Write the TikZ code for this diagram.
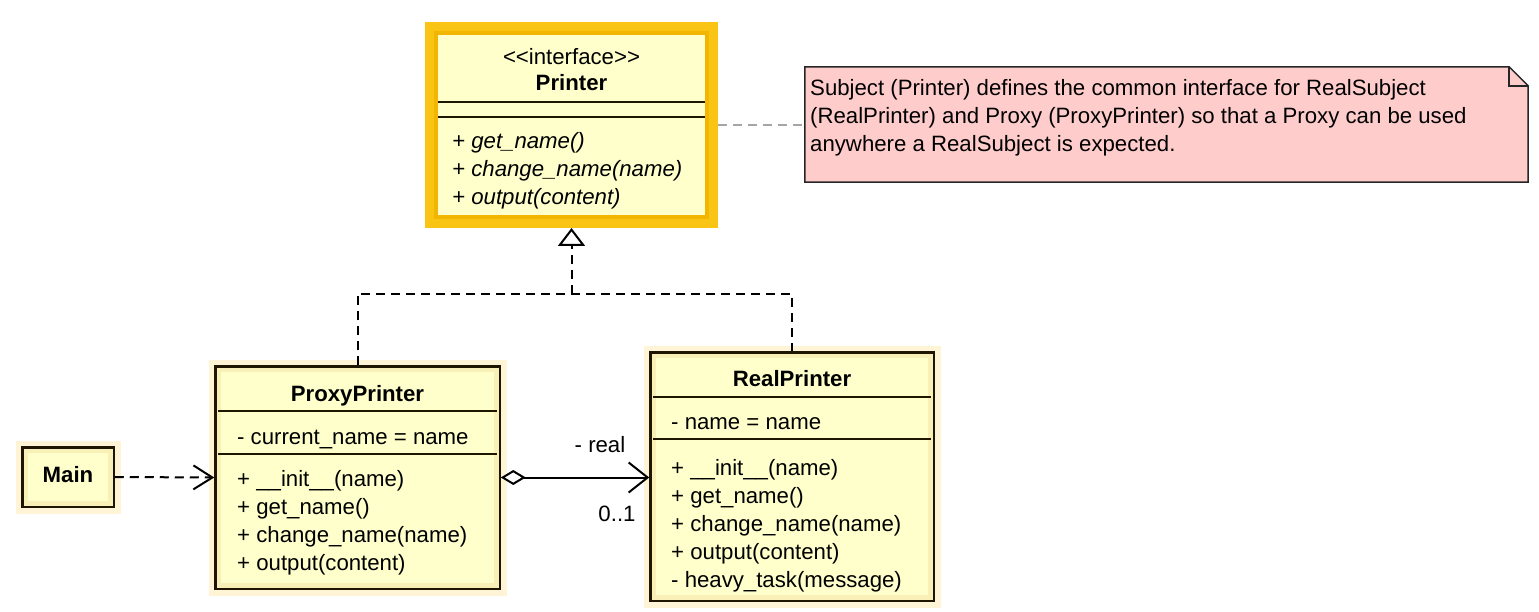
\documentclass[tikz,border=0pt]{standalone}
\usepackage{fontspec}
\newfontfamily\umlfont{Liberation Sans}
\usetikzlibrary{arrows.meta}
\definecolor{cream}{RGB}{255,255,204}
\definecolor{halo}{RGB}{255,244,214}
\definecolor{band}{RGB}{249,240,184}
\definecolor{border}{RGB}{30,22,0}
\definecolor{goldA}{RGB}{243,182,0}
\definecolor{goldB}{RGB}{250,196,20}
\definecolor{notepink}{RGB}{255,204,204}
\definecolor{notegray}{RGB}{165,165,165}
\begin{document}
\begin{tikzpicture}[x=1pt,y=-1pt,
  umltext/.style={font=\umlfont\fontsize{22.2}{28}\selectfont, inner sep=0pt, anchor=base west, text=black},
  umlital/.style={umltext, font=\umlfont\itshape\fontsize{22.2}{28}\selectfont},
  umltitle/.style={font=\umlfont\bfseries\fontsize{22.2}{28}\selectfont, inner sep=0pt, anchor=base, text=black},
  frame/.style={draw=border, line width=3.5pt, fill=cream, inner sep=0pt,
    preaction={draw=halo, line width=15pt}},
  bandline/.style={draw=band, line width=4.5pt},
  sepline/.style={draw=border, line width=1.8pt},
  conn/.style={draw=black, line width=2pt},
  dashconn/.style={conn, dash pattern=on 9pt off 6pt}
]
\useasboundingbox (0,0) rectangle (1539,612);

% ---------- Printer (interface, highlighted) ----------
\node[draw=goldB, fill=goldA, line width=9pt, inner sep=0pt,
      minimum width=284pt, minimum height=197pt] (printerhl) at (571.5,125) {};
\node[fill=cream, inner sep=0pt, minimum width=267pt, minimum height=180pt] (printer) at (571.5,125) {};
\draw[sepline] (438,102) -- (705,102);
\draw[sepline] (438,117) -- (705,117);
\node[umltext, anchor=base] (pstereo) at (571.5,65) {<{}<interface>{}>};
\node[umltitle] (ptitle) at (571.5,91) {Printer};
\node[umlital] (pm1) at (452,149) {+ get\_name()};
\node[umlital] (pm2) at (452,177) {+ change\_name(name)};
\node[umlital] (pm3) at (452,205) {+ output(content)};

% ---------- ProxyPrinter ----------
\node[frame, minimum width=283pt, minimum height=221pt] (proxy) at (357.5,477.5) {};
\draw[bandline] ([shift={(4.5,4.5)}]proxy.north west) rectangle ([shift={(-4.5,-4.5)}]proxy.south east);
\draw[sepline] (218,411) -- (497,411);
\draw[sepline] (218,454) -- (497,454);
\node[umltitle] (xtitle) at (357.5,401) {ProxyPrinter};
\node[umltext] (xa1) at (237,444) {- current\_name = name};
\node[umltext] (xm1) at (237,486) {+ \_\_init\_\_(name)};
\node[umltext] (xm2) at (237,514) {+ get\_name()};
\node[umltext] (xm3) at (237,542) {+ change\_name(name)};
\node[umltext] (xm4) at (237,570) {+ output(content)};

% ---------- RealPrinter ----------
\node[frame, minimum width=282pt, minimum height=247pt] (real) at (792,476.5) {};
\draw[bandline] ([shift={(4.5,4.5)}]real.north west) rectangle ([shift={(-4.5,-4.5)}]real.south east);
\draw[sepline] (653,397) -- (931,397);
\draw[sepline] (653,439) -- (931,439);
\node[umltitle] (rtitle) at (792,386) {RealPrinter};
\node[umltext] (ra1) at (671,429) {- name = name};
\node[umltext] (rm1) at (671,475) {+ \_\_init\_\_(name)};
\node[umltext] (rm2) at (671,503) {+ get\_name()};
\node[umltext] (rm3) at (671,531) {+ change\_name(name)};
\node[umltext] (rm4) at (671,559) {+ output(content)};
\node[umltext] (rm5) at (671,587) {- heavy\_task(message)};

% ---------- Main ----------
\node[frame, minimum width=90pt, minimum height=58pt] (main) at (68,477) {};
\draw[bandline] ([shift={(4.5,4.5)}]main.north west) rectangle ([shift={(-4.5,-4.5)}]main.south east);
\node[umltitle] (mtitle) at (68,482) {Main};

% ---------- Note ----------
\node[inner sep=0pt, minimum width=723pt, minimum height=115pt] (note) at (1166.5,124.5) {};
\draw[fill=notepink, draw=black!85, line width=1.5pt]
  (note.north west) -- ([shift={(-19,0)}]note.north east) -- ([shift={(0,19)}]note.north east)
  -- (note.south east) -- (note.south west) -- cycle;
\draw[draw=black!85, line width=1.5pt]
  ([shift={(-19,0)}]note.north east) -- ([shift={(-19,19)}]note.north east) -- ([shift={(0,19)}]note.north east);
\node[umltext] (n1) at (810,96) {Subject (Printer) defines the common interface for RealSubject};
\node[umltext] (n2) at (810,124) {(RealPrinter) and Proxy (ProxyPrinter) so that a Proxy can be used};
\node[umltext] (n3) at (810,152) {anywhere a RealSubject is expected.};
\draw[draw=notegray, line width=2pt, dash pattern=on 9pt off 6pt]
  (printerhl.east) -- (printerhl.east -| note.west);

% ---------- Connectors ----------
\coordinate (junction) at (571.5,294);
\draw[dashconn] (proxy.north) |- (junction) -| (real.north);
\draw[dashconn, -{Triangle[open, length=18pt, width=27pt, fill=white]}] (junction) -- (printerhl.south);
\draw[dashconn, -{Straight Barb[length=19pt, width=24pt]}] (main.east) -- (proxy.west);
\draw[conn, {Diamond[open, length=25pt, width=15pt, fill=white]}-{Straight Barb[length=19pt, width=30pt]}]
  (proxy.east) -- (proxy.east -| real.west);
\node[umltext, anchor=base] (lreal) at (600,452) {- real};
\node[umltext, anchor=base] (lmult) at (617,521) {0..1};
\end{tikzpicture}
\end{document}
